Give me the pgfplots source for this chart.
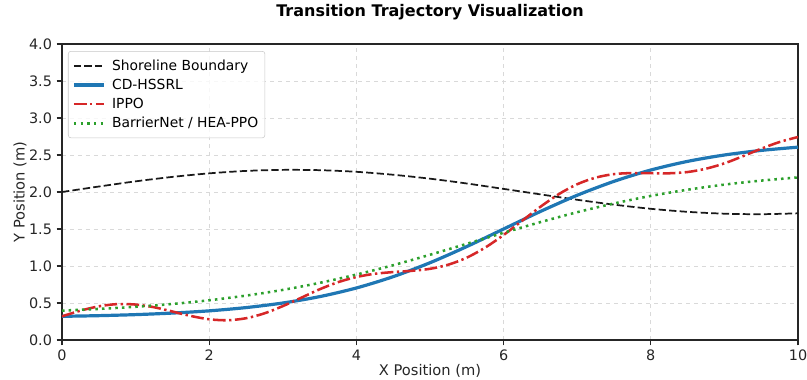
\documentclass[border=0pt]{standalone}
\usepackage{pgfplots}
\pgfplotsset{compat=1.18}
\usepackage{fontspec}
\setmainfont{DejaVu Sans}
\definecolor{tabblue}{HTML}{1F77B4}
\definecolor{tabred}{HTML}{D62728}
\definecolor{tabgreen}{HTML}{2CA02C}
\begin{document}
\begin{tikzpicture}
\path[use as bounding box] (-46.5pt,-29.25pt) rectangle (558.75pt,255pt);
\begin{axis}[
  at={(0,0)}, anchor=south west,
  scale only axis,
  width=552pt, height=222pt,
  xmin=0, xmax=10, ymin=0, ymax=4,
  xtick={0,2,4,6,8,10},
  ytick={0,0.5,1,1.5,2,2.5,3,3.5,4},
  yticklabel style={/pgf/number format/.cd,fixed,fixed zerofill,precision=1},
  /pgf/number format/assume math mode=true,
  tick label style={font=\fontsize{10.8}{12}\selectfont, text=black!85},
  xlabel={X Position (m)},
  ylabel={Y Position (m)},
  every axis x label/.style={at={(axis description cs:0.5,0)}, yshift=-23.25pt, anchor=center, font=\fontsize{11}{12}\selectfont, text=black!85},
  every axis y label/.style={at={(axis description cs:0,0.5)}, xshift=-31.5pt, rotate=90, anchor=center, font=\fontsize{11}{12}\selectfont, text=black!85},
  title={Transition Trajectory Visualization},
  title style={at={(axis description cs:0.5,1)}, yshift=18pt, anchor=center, font=\bfseries\fontsize{12}{14}\selectfont},
  grid=major,
  major grid style={dashed, color=black!15, line width=0.6pt},
  axis line style={black!85, line width=0.8pt},
  tick style={black!85, line width=0.8pt},
  tick align=outside,
  major tick length=4pt,
  xtick pos=bottom, ytick pos=left,
  legend style={at={(axis description cs:0,1)}, xshift=4.5pt, yshift=-5.25pt, anchor=north west, draw=black!22, rounded corners=2pt,
    fill=white, fill opacity=0.8, text opacity=1,
    font=\fontsize{10.4}{12}\selectfont, row sep=1.1pt, inner xsep=3pt, inner ysep=4.2pt},
  legend cell align=left,
  legend image code/.code={\draw[#1] (0pt,0pt) -- (22.5pt,0pt); \path (25.5pt,0pt);},
]
\addplot[black!90, line width=1.3pt, dash pattern=on 5.5pt off 2.4pt, smooth] coordinates {
(0,2.000) (0.5,2.074) (1,2.144) (1.5,2.204) (2,2.252) (2.5,2.285) (3,2.299) (3.5,2.295)
(4,2.273) (4.5,2.233) (5,2.180) (5.5,2.115) (6,2.042) (6.5,1.968) (7,1.895) (7.5,1.829)
(8,1.773) (8.5,1.732) (9,1.707) (9.5,1.700) (10,1.712)};
\addlegendentry{Shoreline Boundary}
\addplot[tabblue, line width=2.4pt, smooth] coordinates {
(0,0.320) (0.5,0.329) (1,0.343) (1.5,0.364) (2,0.394) (2.5,0.438) (3,0.500) (3.5,0.586)
(4,0.703) (4.5,0.856) (5,1.044) (5.5,1.263) (6,1.500) (6.5,1.737) (7,1.956) (7.5,2.144)
(8,2.297) (8.5,2.414) (9,2.500) (9.5,2.562) (10,2.606)};
\addlegendentry{CD-HSSRL}
\addplot[tabred, line width=1.9pt, dash pattern=on 9.5pt off 2.6pt on 1.8pt off 2.6pt, smooth] coordinates {
(0,0.320) (0.25,0.396) (0.5,0.455) (0.75,0.485) (1,0.479) (1.25,0.443) (1.5,0.385) (1.75,0.325)
(2,0.280) (2.25,0.267) (2.5,0.294) (2.75,0.360) (3,0.458) (3.25,0.571) (3.5,0.685) (3.75,0.781)
(4,0.851) (4.25,0.895) (4.5,0.918) (4.75,0.935) (5,0.962) (5.25,1.018) (5.5,1.113) (5.75,1.249)
(6,1.419) (6.25,1.610) (6.5,1.800) (6.75,1.971) (7,2.105) (7.25,2.194) (7.5,2.242) (7.75,2.256)
(8,2.254) (8.25,2.253) (8.5,2.270) (8.75,2.315) (9,2.387) (9.25,2.483) (9.5,2.585) (9.75,2.676)
(10,2.743)};
\addlegendentry{IPPO}
\addplot[tabgreen, line width=1.9pt, dash pattern=on 1.9pt off 3.1pt, smooth] coordinates {
(0,0.397) (0.5,0.420) (1,0.449) (1.5,0.487) (2,0.537) (2.5,0.600) (3,0.677) (3.5,0.772)
(4,0.884) (4.5,1.011) (5,1.152) (5.5,1.300) (6,1.449) (6.5,1.593) (7,1.727) (7.5,1.845)
(8,1.947) (8.5,2.031) (9,2.100) (9.5,2.154) (10,2.197)};
\addlegendentry{BarrierNet / HEA-PPO}
\end{axis}
\end{tikzpicture}
\end{document}
